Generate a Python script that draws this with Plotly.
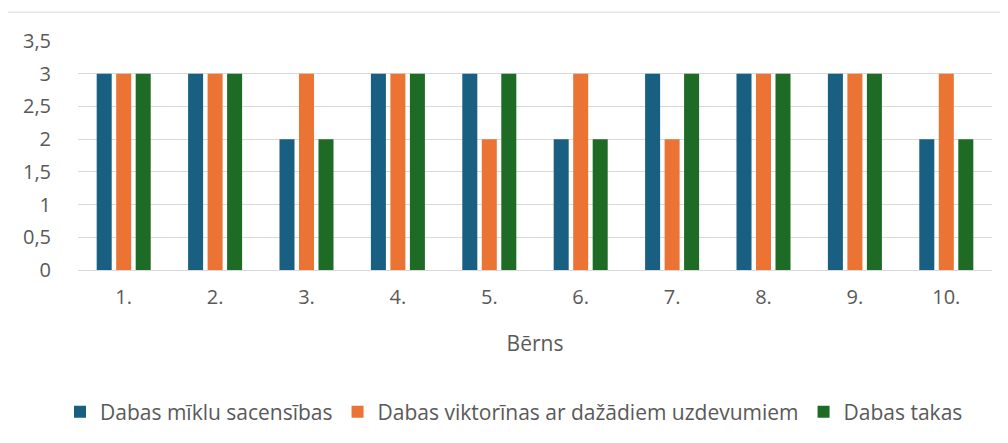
import plotly.graph_objects as go

categories = ["1.", "2.", "3.", "4.", "5.", "6.", "7.", "8.", "9.", "10."]
miklu = [3, 3, 2, 3, 3, 2, 3, 3, 3, 2]
viktorinas = [3, 3, 3, 3, 2, 3, 2, 3, 3, 3]
takas = [3, 3, 2, 3, 3, 2, 3, 3, 3, 2]

series_names = [
    "Dabas mīklu sacensības",
    "Dabas viktorīnas ar dažādiem uzdevumiem",
    "Dabas takas",
]
colors = ["#195f82", "#eb7434", "#1e6b25"]

FONT = "Open Sans"
GREY = "#595959"

fig = go.Figure()
for name, vals, col in zip(series_names, [miklu, viktorinas, takas], colors):
    fig.add_trace(go.Bar(x=categories, y=vals, name=name, marker_color=col,
                         marker_line_width=0))

# page body has an 8px margin, so the figure is drawn 8px in from the window edge
OFF = 8
W, H = 1008 - OFF, 443 - OFF
L, R, T = 78 - OFF, 16, 41 - OFF
ph = 230
B = H - T - ph
pw = W - L - R

fig.update_layout(
    width=W, height=H,
    margin=dict(l=L, r=R, t=T, b=B),
    barmode="group",
    bargap=0.36,
    bargroupgap=0.23,
    paper_bgcolor="white",
    plot_bgcolor="white",
    font=dict(family=FONT, size=20, color=GREY),
    xaxis=dict(
        title=dict(text="Bērns", font=dict(size=21, color=GREY), standoff=27),
        showgrid=False, ticks="", showline=False,
        ticklabelstandoff=13,
        tickfont=dict(size=20, color=GREY),
    ),
    yaxis=dict(
        range=[0, 3.5], dtick=0.5, tickformat=".1~f",
        showgrid=True, gridcolor="#d9d9d9", gridwidth=1,
        zeroline=True, zerolinecolor="#d9d9d9", zerolinewidth=1,
        showline=False, ticks="", ticklabelstandoff=26,
        tickfont=dict(size=20, color=GREY),
    ),
    separators=", ",
    legend=dict(
        orientation="h", x=(514 - 78) / pw, xanchor="center",
        y=-(412 - 271) / ph, yanchor="middle",
        font=dict(size=21, color=GREY),
        itemwidth=30, traceorder="normal",
    ),
    shapes=[dict(
        type="rect", xref="paper", yref="paper",
        x0=(7 - 78) / pw, x1=(1015 - 78) / pw,
        y0=-(450 - 271) / ph, y1=1 + (41 - 12) / ph,
        line=dict(color="#d9d9d9", width=1), fillcolor="rgba(0,0,0,0)",
        layer="below",
    )],
)

fig.write_html("out.html")
